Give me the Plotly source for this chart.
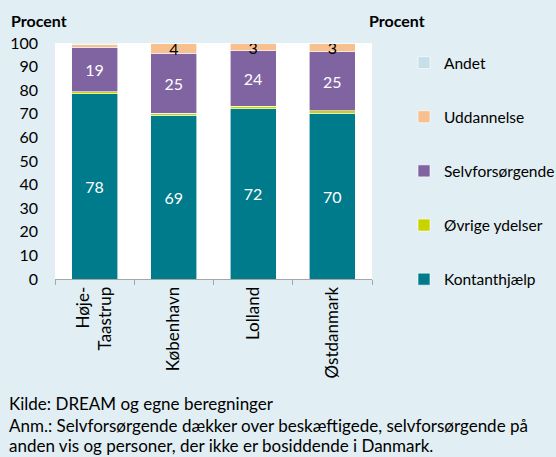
import plotly.graph_objects as go

categories = ["Høje-<br>Taastrup", "København", "Lolland", "Østdanmark"]
kontanthjaelp = [78.4, 69.4, 72.2, 70.3]
oevrige = [0.9, 0.8, 0.9, 0.9]
selvforsoergende = [18.9, 25.4, 23.6, 25.1]
uddannelse = [1.3, 4.0, 2.9, 3.3]
andet = [0.5, 0.3, 0.5, 0.4]
yticks = [0, 10, 20, 30, 40, 50, 60, 70, 80, 90, 100]

FONT = "Lato"
BG = "#E1EEF3"

series = [
    ("Kontanthjælp", kontanthjaelp, "#007B8C", "white"),
    ("Øvrige ydelser", oevrige, "#C8D400", "white"),
    ("Selvforsørgende", selvforsoergende, "#8064A2", "white"),
    ("Uddannelse", uddannelse, "#F9C08F", "black"),
    ("Andet", andet, "#C6DFE8", "black"),
]

fig = go.Figure()
n = len(series)
for i, (name, vals, color, tcol) in enumerate(series):
    txt = [str(round(v)) if round(v) >= 3 else "" for v in vals]
    fig.add_trace(go.Bar(
        x=categories, y=vals, name=name, legendgroup=f"g{i}", legendrank=n - i,
        marker=dict(color=color, line=dict(color="white", width=0.6)),
        text=txt, textposition="inside", insidetextanchor="middle",
        textangle=0, textfont=dict(color=tcol, size=16, family=FONT),
        width=0.58, hoverinfo="skip",
    ))

W, H = 556, 457
L, R, T, B = 55, 184, 43, 178
PW, PH = W - L - R, H - T - B


def px_x(x):
    return (x - L) / PW


def px_y(y):
    return (H - B - y) / PH


fig.update_layout(
    width=W, height=H,
    paper_bgcolor=BG, plot_bgcolor="white",
    barmode="stack",
    margin=dict(l=L, r=R, t=T, b=B, autoexpand=False),
    font=dict(family=FONT, size=16, color="black"),
    uniformtext=dict(minsize=16, mode="show"),
    showlegend=True,
    legend=dict(
        xref="container", yref="container",
        x=404 / W, xanchor="left", y=1 - 46 / H, yanchor="top",
        traceorder="grouped", tracegroupgap=31, maxheight=H,
        font=dict(size=15.5, family=FONT), bgcolor="rgba(0,0,0,0)",
        itemclick=False,
    ),
    xaxis=dict(
        showline=True, linecolor="#A6A6A6", linewidth=1, automargin=False,
        ticks="outside", tickson="boundaries", ticklen=5, tickcolor="#A6A6A6",
        tickangle=-90, tickfont=dict(size=17), showgrid=False,
    ),
    yaxis=dict(
        range=[0, 100], tickvals=yticks, showgrid=False, zeroline=False,
        showline=False, ticks="", ticklabelstandoff=16, tickfont=dict(size=16),
        automargin=False,
    ),
    yaxis2=dict(
        range=[0, 100], tickvals=yticks, overlaying="y", side="right",
        showgrid=False, zeroline=False, showline=False, ticks="",
        ticklabelstandoff=18, tickfont=dict(size=16), automargin=False,
    ),
    annotations=[
        dict(text="<b>Procent</b>", xref="paper", yref="paper", x=px_x(9), y=px_y(20),
             xanchor="left", yanchor="middle", showarrow=False, font=dict(size=16)),
        dict(text="<b>Procent</b>", xref="paper", yref="paper", x=px_x(367), y=px_y(20),
             xanchor="left", yanchor="middle", showarrow=False, font=dict(size=16)),
        dict(text="Kilde: DREAM og egne beregninger", xref="paper", yref="paper",
             x=px_x(7), y=px_y(403), xanchor="left", yanchor="middle",
             showarrow=False, font=dict(size=17)),
        dict(text="Anm.: Selvforsørgende dækker over beskæftigede, selvforsørgende på",
             xref="paper", yref="paper",
             x=px_x(7), y=px_y(425), xanchor="left", yanchor="middle",
             showarrow=False, font=dict(size=17)),
        dict(text="anden vis og personer, der ikke er bosiddende i Danmark.",
             xref="paper", yref="paper",
             x=px_x(7), y=px_y(445), xanchor="left", yanchor="middle",
             showarrow=False, font=dict(size=17)),
    ],
)

fig.write_html(
    "out.html",
    config={"displayModeBar": False},
    post_script="document.body.style.margin='0';document.body.style.overflow='hidden';"
                "document.body.style.background='" + BG + "';",
)
